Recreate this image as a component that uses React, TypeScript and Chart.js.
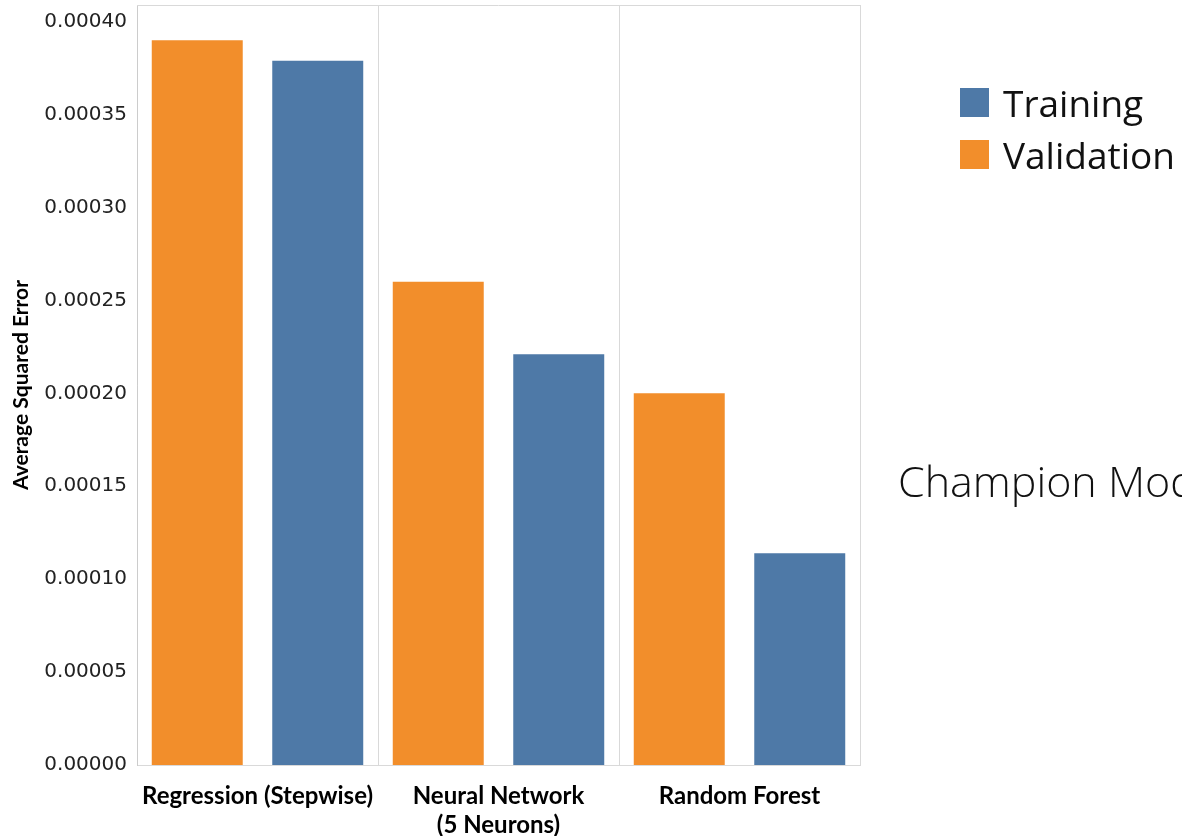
import React, { useEffect, useRef } from "react";
import { Chart, registerables } from "chart.js";

Chart.register(...registerables);

const categories: (string | string[])[] = [
  "Regression (Stepwise)",
  ["Neural Network", "(5 Neurons)"],
  "Random Forest",
];
const validationValues = [0.00039, 0.00026, 0.0002];
const trainingValues = [0.000379, 0.000221, 0.000114];
const yTickValues = [0, 0.00005, 0.0001, 0.00015, 0.0002, 0.00025, 0.0003, 0.00035, 0.0004];
const yMax = 0.000409;

const ORANGE = "#F28E2B";
const BLUE = "#4E79A7";
const BORDER = "#d9d9d9";

const frame = {
  id: "frame",
  afterDraw(chart: any) {
    const { ctx, chartArea } = chart;
    ctx.save();
    ctx.strokeStyle = BORDER;
    ctx.lineWidth = 1;
    ctx.beginPath();
    ctx.moveTo(chartArea.left, chartArea.top + 0.5);
    ctx.lineTo(chartArea.right, chartArea.top + 0.5);
    ctx.stroke();
    ctx.restore();
  },
};

export default function App() {
  const ref = useRef<HTMLCanvasElement>(null);
  useEffect(() => {
    if (!ref.current) return;
    const chart = new Chart(ref.current, {
      type: "bar",
      data: {
        labels: categories as any,
        datasets: [
          { label: "Validation", data: validationValues, backgroundColor: ORANGE },
          { label: "Training", data: trainingValues, backgroundColor: BLUE },
        ],
      },
      options: {
        responsive: false,
        animation: false,
        categoryPercentage: 1.0,
        barPercentage: 0.755,
        layout: { padding: { left: 0, right: 322, top: 5, bottom: 0 } },
        plugins: { legend: { display: false }, tooltip: { enabled: false } },
        scales: {
          x: {
            afterFit: (axis: any) => {
              axis.height = 71;
              axis.paddingLeft = 0;
              axis.paddingRight = 0;
            },
            grid: { display: true, color: BORDER, drawTicks: false, offset: true },
            border: { display: true, color: BORDER },
            ticks: {
              color: "#000",
              padding: 17,
              font: { family: "Lato", weight: "bold", size: 24, lineHeight: 1.2 },
              maxRotation: 0,
              autoSkip: false,
            },
          },
          y: {
            min: 0,
            max: yMax,
            afterFit: (axis: any) => {
              axis.width = 137;
              axis.paddingTop = 0;
              axis.paddingBottom = 0;
            },
            afterBuildTicks: (axis: any) => {
              axis.ticks = yTickValues.map((v) => ({ value: v }));
            },
            grid: { display: false, drawTicks: false },
            border: { display: true, color: "#cccccc" },
            ticks: {
              color: "#222",
              padding: 10,
              font: { family: "DejaVu Sans", size: 20 },
              callback: (v: any) => Number(v).toFixed(5),
            },
            title: {
              display: true,
              text: "Average Squared Error",
              color: "#000",
              padding: { top: 9, bottom: 0 },
              font: { family: "Lato", weight: "bold", size: 21 },
            },
          },
        },
      },
      plugins: [frame],
    });
    return () => chart.destroy();
  }, []);

  const legendItems = [
    { label: "Training", color: BLUE },
    { label: "Validation", color: ORANGE },
  ];

  return (
    <div
      style={{
        position: "absolute",
        left: 0,
        top: 0,
        width: 1182,
        height: 836,
        overflow: "hidden",
        background: "#fff",
      }}
    >
      <canvas ref={ref} width={1182} height={836} style={{ display: "block" }} />
      <div style={{ position: "absolute", left: 960, top: 88 }}>
        {legendItems.map((it, i) => (
          <div
            key={it.label}
            style={{
              display: "flex",
              alignItems: "center",
              height: 29,
              marginBottom: i === 0 ? 23 : 0,
              whiteSpace: "nowrap",
            }}
          >
            <div style={{ width: 29, height: 29, background: it.color, marginRight: 14 }} />
            <span
              style={{
                fontFamily: "'Open Sans', sans-serif",
                fontSize: 37,
                lineHeight: "29px",
                color: "#111",
              }}
            >
              {it.label}
            </span>
          </div>
        ))}
      </div>
      <div
        style={{
          position: "absolute",
          left: 898,
          top: 459,
          fontFamily: "'Open Sans', sans-serif",
          fontWeight: 300,
          fontSize: 43,
          lineHeight: "43px",
          color: "#111",
          whiteSpace: "nowrap",
        }}
      >
        Champion Model
      </div>
    </div>
  );
}
